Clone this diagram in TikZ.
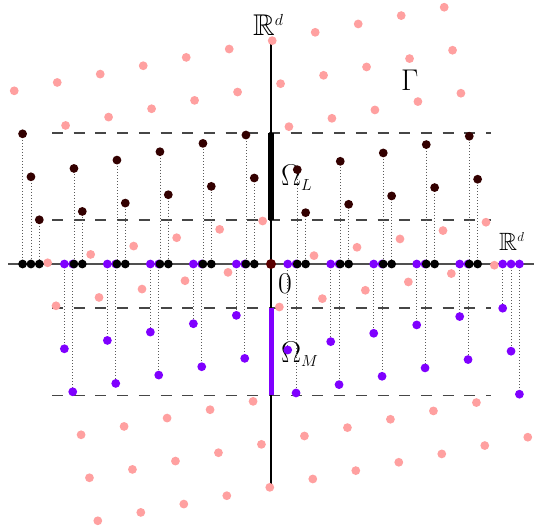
\RequirePackage{fix-cm}
\documentclass[tikz,border=0pt]{standalone}
\usepackage{amssymb}
\DeclareMathSizes{30}{30}{16}{12}
\DeclareMathSizes{25}{25}{13}{10}
\definecolor{pinkpt}{RGB}{255,160,160}
\definecolor{darkpt}{RGB}{51,0,0}
\definecolor{purp}{RGB}{127,0,255}
\definecolor{origc}{RGB}{90,0,0}
\definecolor{projc}{RGB}{90,90,90}
\definecolor{dashc}{RGB}{70,70,70}
\definecolor{axisc}{RGB}{80,80,80}
\pgfdeclarelayer{bg}
\pgfdeclarelayer{mid}
\pgfsetlayers{bg,mid,main}
\tikzset{
  dotbase/.style={circle, inner sep=0pt, minimum size=8.8pt, draw=none},
  pinkdot/.style={dotbase, fill=pinkpt},
  darkdot/.style={dotbase, fill=darkpt},
  blackdot/.style={dotbase, fill=black},
  purpdot/.style={dotbase, fill=purp},
  origdot/.style={dotbase, fill=origc, minimum size=10pt},
  projline/.style={draw=projc, line width=0.8pt, dash pattern=on 0.9pt off 2.1pt},
  stripline/.style={draw=dashc, line width=1.8pt, dash pattern=on 11pt off 10.7pt},
  haxis/.style={draw=axisc, line width=1.5pt},
  vaxis/.style={draw=black, line width=1.1pt},
  lbl/.style={inner sep=0pt, anchor=base west, font=\fontsize{30}{36}\selectfont},
  lblsmall/.style={inner sep=0pt, anchor=base west, font=\fontsize{25}{30}\selectfont},
}
\begin{document}
\begin{tikzpicture}[x=1pt,y=1pt]
\useasboundingbox (0,0) rectangle (534,-527);
\begin{scope}[shift={(271pt,-264pt)}, x=43.8pt, y=43.8pt]
  \coordinate (xl) at (-6,0);
  \coordinate (xr) at (6,0);
  \coordinate (yb) at (0,-5.16);
  \coordinate (yt) at (0,5.09);
  \coordinate (l1a) at (-5,3);  \coordinate (l1b) at (5.02,3);
  \coordinate (l2a) at (-5,1);  \coordinate (l2b) at (5.02,1);
  \coordinate (m1a) at (-5,-1); \coordinate (m1b) at (5.02,-1);
  \coordinate (m2a) at (-5,-3); \coordinate (m2b) at (5.02,-3);
  \coordinate (lb1) at (0,1); \coordinate (lb2) at (0,3);
  \coordinate (mb1) at (0,-1); \coordinate (mb2) at (0,-3);
  \begin{pgfonlayer}{bg}
    \draw[stripline] (l1a) -- (l1b);
    \draw[stripline] (l2a) -- (l2b);
    \draw[stripline] (m1a) -- (m1b);
    \draw[stripline] (m2a) -- (m2b);
    \draw[haxis] (xl) -- (xr);
    \draw[vaxis] (yb) -- (yt);
    \draw[draw=black, line width=5.5pt] (lb1) -- (lb2);
    \draw[draw=purp, line width=5pt] (mb1) -- (mb2);
  \end{pgfonlayer}
  \foreach \m in {-5,...,5}{
    \foreach \n in {-5,...,5}{
      \pgfmathsetmacro\xx{\m*cos(11)-\n*sin(11)}
      \pgfmathsetmacro\yy{\m*sin(11)+\n*cos(11)}
      \pgfmathtruncatemacro\inL{and(\yy>=1,\yy<=3)}
      \pgfmathtruncatemacro\inM{and(\yy<=-1,\yy>=-3)}
      \pgfmathtruncatemacro\isO{and(\m==0,\n==0)}
      \ifnum\isO=1
        \node[origdot] (o) at (0,0) {};
      \else\ifnum\inL=1
        \node[darkdot] (g\m n\n) at (\xx,\yy) {};
        \node[blackdot] (a\m n\n) at (\xx,0) {};
        \begin{pgfonlayer}{mid}
          \draw[projline] (g\m n\n.center) -- (a\m n\n.center);
        \end{pgfonlayer}
      \else\ifnum\inM=1
        \node[purpdot] (g\m n\n) at (\xx,\yy) {};
        \node[purpdot] (a\m n\n) at (\xx,0) {};
        \begin{pgfonlayer}{mid}
          \draw[projline] (a\m n\n.center) -- (g\m n\n.center);
        \end{pgfonlayer}
      \else
        \node[pinkdot] (g\m n\n) at (\xx,\yy) {};
      \fi\fi\fi
    }
  }
\end{scope}
\begin{pgfonlayer}{bg}
\node[lbl] (rdtop) at (253,-36) {$\mathbb{R}^d$};
\node[lblsmall] (rdright) at (499,-250.5) {$\mathbb{R}^d$};
\node[lbl] (gam) at (401,-90) {$\Gamma$};
\node[lbl] (omL) at (281,-185.5) {$\Omega_L$};
\node[lbl] (zero) at (278,-293) {$0$};
\node[lbl] (omM) at (281,-362) {$\Omega_M$};
\end{pgfonlayer}
\end{tikzpicture}
\end{document}
